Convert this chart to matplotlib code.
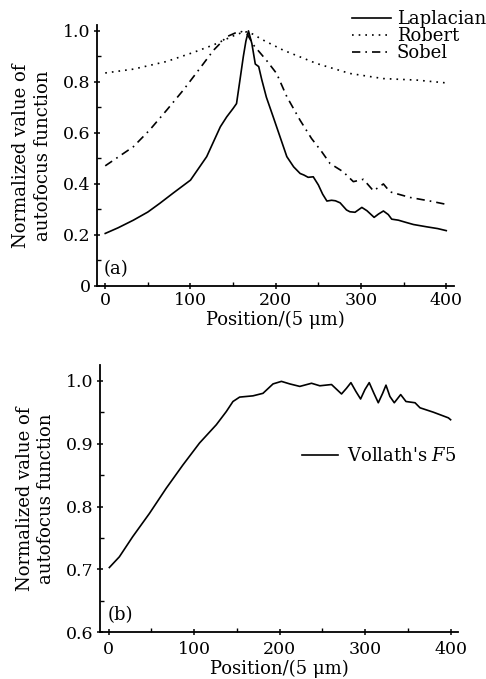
import matplotlib
matplotlib.use("Agg")
import matplotlib.pyplot as plt
from matplotlib.ticker import MultipleLocator

plt.rcParams['font.family'] = ['DejaVu Serif']
plt.rcParams['mathtext.fontset'] = 'dejavuserif'

# ---- data ----
lap_x = [0, 15, 33, 50, 64, 80, 100, 119, 135, 142.5, 150, 154, 158, 162, 165, 168,
         172, 176, 180, 183.5, 189, 197, 205, 209, 213, 217, 221, 228.6, 233, 238, 244,
         250, 255, 260, 265.5, 270, 275.5, 283, 287, 293, 301, 307, 315.4, 320.5, 326.3,
         332, 336, 343.8, 352, 361.5, 377, 390, 400]
lap_y = [0.206, 0.228, 0.258, 0.29, 0.324, 0.365, 0.415, 0.507, 0.624, 0.663, 0.696, 0.715, 0.807, 0.9, 0.96, 1.0,
         0.95, 0.87, 0.86, 0.81, 0.74, 0.663, 0.585, 0.546, 0.507, 0.487, 0.467, 0.441, 0.435, 0.426, 0.428,
         0.396, 0.36, 0.333, 0.336, 0.334, 0.326, 0.298, 0.291, 0.289, 0.308, 0.295, 0.269, 0.282, 0.294,
         0.28, 0.262, 0.258, 0.25, 0.241, 0.232, 0.225, 0.217]

rob_x = [0, 33, 72, 103, 127, 150, 160, 166, 175, 181.6, 209, 248, 287, 326, 365.6, 400]
rob_y = [0.835, 0.85, 0.88, 0.915, 0.945, 0.98, 0.993, 0.996, 0.985, 0.97, 0.924, 0.872, 0.833, 0.813, 0.807, 0.796]

sob_x = [0, 33, 52, 72, 91.6, 111, 127, 142.5, 154, 160, 166, 174, 189, 201, 213, 228.5,
         242, 254, 263.7, 279, 291, 302.8, 314.6, 326.3, 334, 357.6, 381, 400]
sob_y = [0.471, 0.546, 0.611, 0.689, 0.768, 0.853, 0.924, 0.977, 0.994, 0.997, 0.99, 0.944, 0.885, 0.833, 0.742, 0.65,
         0.578, 0.526, 0.48, 0.448, 0.409, 0.418, 0.373, 0.4, 0.369, 0.347, 0.333, 0.32]

vol_x = [0.8, 12.5, 28.1, 47.7, 67.3, 86.8, 106.3, 125.9, 137.6, 145.4, 153.2, 168.8, 180.5, 192.3,
         202.1, 211.8, 223.6, 237.3, 247, 260.7, 272.4, 278.2, 283.4, 289.2, 294.7, 299.8, 304.8,
         310.3, 315.4, 320.5, 324.4, 329, 334.1, 341.6, 347.8, 358.4, 364.2, 379.8, 397.4, 400]
vol_y = [0.703, 0.720, 0.752, 0.789, 0.829, 0.866, 0.901, 0.930, 0.951, 0.967, 0.974, 0.976, 0.980, 0.995,
         0.999, 0.995, 0.991, 0.996, 0.992, 0.994, 0.979, 0.988, 0.997, 0.983, 0.971, 0.986, 0.997,
         0.980, 0.965, 0.980, 0.993, 0.975, 0.965, 0.978, 0.967, 0.965, 0.957, 0.950, 0.941, 0.938]

xticks = [0, 100, 200, 300, 400]
ylabel = "Normalized value of\nautofocus function"
xlabel = "Position/(5 \u03bcm)"

fig = plt.figure(figsize=(4.86, 6.79), dpi=100)
ax1 = fig.add_axes([0.199, 0.5788, 0.735, 0.384])
ax2 = fig.add_axes([0.206, 0.0688, 0.737, 0.3936])

fs = 12.5
lfs = 13

def style(ax):
    for s in ['top', 'right']:
        ax.spines[s].set_visible(False)
    for s in ['left', 'bottom']:
        ax.spines[s].set_linewidth(1.3)
    ax.tick_params(which='major', direction='inout', length=5, width=1.1, labelsize=fs, pad=2)
    ax.tick_params(which='minor', direction='in', length=3, width=1.0)
    ax.xaxis.set_minor_locator(MultipleLocator(50))
    ax.set_xticks(xticks)
    ax.set_xlim(-10, 409)

style(ax1)
ax1.plot(lap_x, lap_y, '-', color='black', lw=1.2, label='Laplacian')
ax1.plot(rob_x, rob_y, linestyle=(0, (1, 3)), color='black', lw=1.2, label='Robert')
ax1.plot(sob_x, sob_y, linestyle=(0, (5, 3, 1, 3)), color='black', lw=1.2, label='Sobel')
ax1.set_ylim(0, 1.022)
ax1.set_yticks([0, 0.2, 0.4, 0.6, 0.8, 1.0])
ax1.set_yticklabels(['0', '0.2', '0.4', '0.6', '0.8', '1.0'])
ax1.yaxis.set_minor_locator(MultipleLocator(0.1))
ax1.set_xlabel(xlabel, fontsize=lfs, labelpad=1)
ax1.set_ylabel(ylabel, fontsize=lfs, linespacing=1.25, labelpad=8)
ax1.text(0.02, 0.03, '(a)', transform=ax1.transAxes, fontsize=lfs, va='bottom', ha='left')
ax1.legend(loc='upper right', bbox_to_anchor=(1.0, 0.985), bbox_transform=fig.transFigure,
           frameon=False, fontsize=lfs, handlelength=2.2, handletextpad=0.3,
           labelspacing=-0.05, borderaxespad=0.0, borderpad=0.0)

style(ax2)
ax2.plot(vol_x, vol_y, '-', color='black', lw=1.2, label="Vollath's $F$5")
ax2.set_ylim(0.6, 1.025)
ax2.set_yticks([0.6, 0.7, 0.8, 0.9, 1.0])
ax2.yaxis.set_minor_locator(MultipleLocator(0.05))
ax2.tick_params(axis='x', which='major', pad=4)
ax2.set_xlabel(xlabel, fontsize=lfs, labelpad=1)
ax2.set_ylabel(ylabel, fontsize=lfs, linespacing=1.25, labelpad=8)
ax2.text(0.02, 0.03, '(b)', transform=ax2.transAxes, fontsize=lfs, va='bottom', ha='left')
ax2.legend(loc='center right', bbox_to_anchor=(0.94, 0.328), bbox_transform=fig.transFigure,
           frameon=False, fontsize=lfs, handlelength=2.0, handletextpad=0.5,
           borderaxespad=0.0, borderpad=0.0)

fig.savefig('out.png', dpi=100)
